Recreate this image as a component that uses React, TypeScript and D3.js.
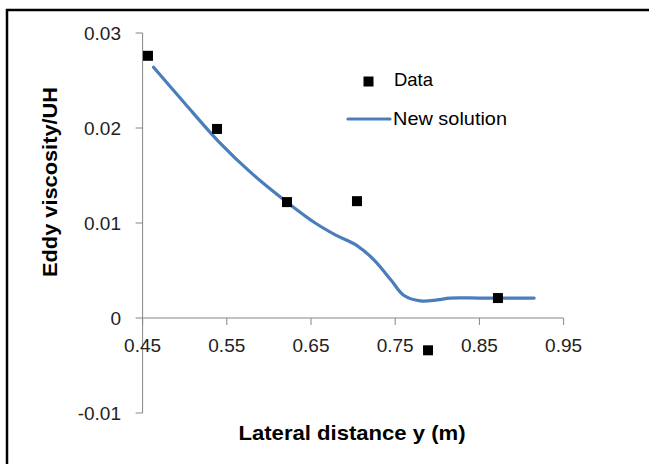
import React from "react";
import * as d3 from "d3";

// Measured eddy viscosity (normalised by U·H)
const dataY = [0.4564, 0.5384, 0.6215, 0.7046, 0.789, 0.872];
const dataNu = [0.0276, 0.0199, 0.0122, 0.0123, -0.0034, 0.0021];

// Analytical "new solution" profile
const solY = [0.463, 0.5, 0.54, 0.58, 0.62, 0.655, 0.68, 0.705, 0.725, 0.745, 0.76, 0.78, 0.8, 0.815, 0.85, 0.88, 0.915];
const solNu = [0.0264, 0.0226, 0.0186, 0.0152, 0.0123, 0.01, 0.0087, 0.0076, 0.0061, 0.004, 0.0024, 0.0018, 0.0019, 0.0021, 0.0021, 0.0021, 0.0021];

const xTicks = [0.45, 0.55, 0.65, 0.75, 0.85, 0.95];
const yTicks = [-0.01, 0, 0.01, 0.02, 0.03];

const W = 649;
const H = 464;
const FONT = "'Liberation Sans', Arial, sans-serif";
const AXIS = "#868686";
const BLUE = "#4A7EBB";

export default function App() {
  const x = d3.scaleLinear().domain([0.45, 0.95]).range([142.6, 563.6]);
  const y = d3.scaleLinear().domain([-0.01, 0.03]).range([413, 33]);

  const line = d3
    .line<number>()
    .x((_, i) => x(solY[i]))
    .y((d) => y(d))
    .curve(d3.curveCatmullRom.alpha(0.5));

  const x0 = x(0.45);
  const yZero = y(0);
  const ms = 10;

  return (
    <svg width={W} height={H} style={{ position: "absolute", left: 0, top: 0 }}>
      <rect x={0} y={0} width={W} height={H} fill="#fff" />
      {/* frame */}
      <path d={`M7,${H + 5} L7,10 L${W + 5},10`} fill="none" stroke="#000" strokeWidth={2.5} />

      {/* y axis */}
      <line x1={x0} x2={x0} y1={y(0.03)} y2={y(-0.01)} stroke={AXIS} strokeWidth={1} />
      {yTicks.map((t) => (
        <g key={`yt${t}`}>
          <line x1={x0 - 7} x2={x0} y1={y(t)} y2={y(t)} stroke={AXIS} strokeWidth={1} />
          <text
            x={121}
            y={y(t)}
            dy="0.35em"
            textAnchor="end"
            fontFamily={FONT}
            fontSize={19}
            fill="#222"
          >
            {t === 0 ? "0" : t.toFixed(2)}
          </text>
        </g>
      ))}

      {/* x axis at zero */}
      <line x1={x0} x2={x(0.95)} y1={yZero} y2={yZero} stroke={AXIS} strokeWidth={1} />
      {xTicks.map((t) => (
        <g key={`xt${t}`}>
          <line x1={x(t)} x2={x(t)} y1={yZero} y2={yZero + 7} stroke={AXIS} strokeWidth={1} />
          <text
            x={x(t)}
            y={352}
            textAnchor="middle"
            fontFamily={FONT}
            fontSize={19}
            fill="#222"
          >
            {t.toFixed(2)}
          </text>
        </g>
      ))}

      {/* solution curve */}
      <path d={line(solNu) ?? ""} fill="none" stroke={BLUE} strokeWidth={3.2} strokeLinecap="round" />

      {/* data markers */}
      {dataY.map((v, i) => (
        <rect
          key={`d${i}`}
          x={x(v) - ms / 2}
          y={y(dataNu[i]) - ms / 2}
          width={ms}
          height={ms}
          fill="#000"
        />
      ))}

      {/* legend */}
      <rect x={363.5} y={76.5} width={ms} height={ms} fill="#000" />
      <text x={394} y={86} fontFamily={FONT} fontSize={19} fill="#000" textLength={39} lengthAdjust="spacingAndGlyphs">
        Data
      </text>
      <line x1={348} x2={390} y1={119} y2={119} stroke={BLUE} strokeWidth={3.2} strokeLinecap="round" />
      <text x={393} y={125} fontFamily={FONT} fontSize={19} fill="#000" textLength={114} lengthAdjust="spacingAndGlyphs">
        New solution
      </text>

      {/* axis titles */}
      <text
        transform={`translate(57,182) rotate(-90)`}
        textAnchor="middle"
        fontFamily={FONT}
        fontWeight="bold"
        fontSize={21}
        fill="#000"
        textLength={190}
        lengthAdjust="spacingAndGlyphs"
      >
        Eddy viscosity/UH
      </text>
      <text
        x={352}
        y={440}
        textAnchor="middle"
        fontFamily={FONT}
        fontWeight="bold"
        fontSize={21}
        fill="#000"
        textLength={227}
        lengthAdjust="spacingAndGlyphs"
      >
        Lateral distance y (m)
      </text>
    </svg>
  );
}
